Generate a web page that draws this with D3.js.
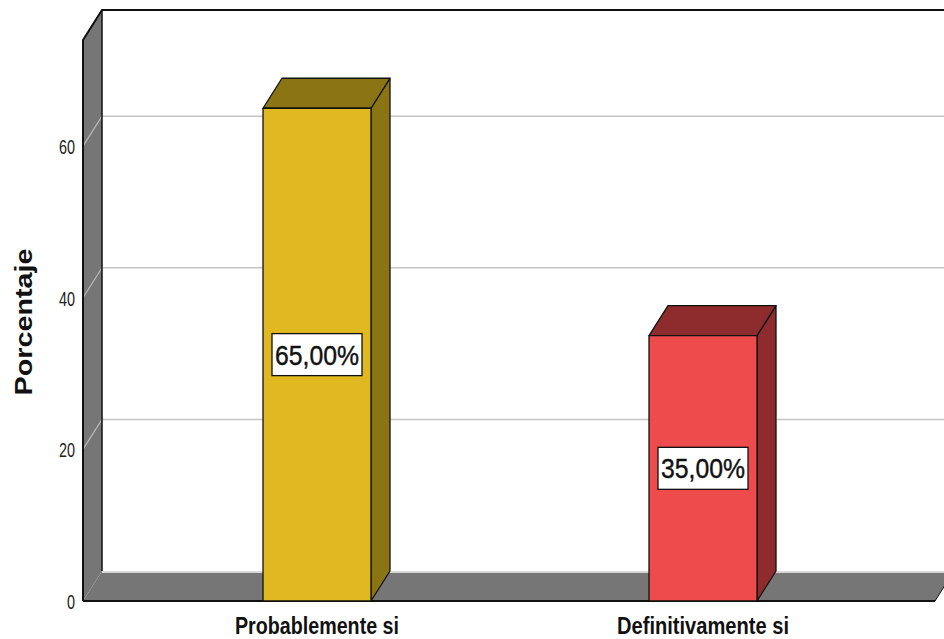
<!DOCTYPE html>
<html>
<head>
<meta charset="utf-8">
<script src="https://cdn.jsdelivr.net/npm/d3@7"></script>
<style>
  body { margin: 0; background: #fff; }
  svg { display: block; }
  .narrow { font-family: "Liberation Sans Narrow", "Liberation Sans", Arial, sans-serif; }
</style>
</head>
<body>
<div id="chart"></div>
<script>
const categories = ["Probablemente si", "Definitivamente si"];
const values = [65, 35];
const valueLabels = ["65,00%", "35,00%"];
const yTicks = [0, 20, 40, 60];
const yTitle = "Porcentaje";

const W = 944, H = 639;
// 3D depth offset of the back plane
const dx = 19, dy = -30;

const svg = d3.select("#chart")
  .append("svg")
  .attr("width", W)
  .attr("height", H);

// front-plane scales
const y = d3.scaleLinear().domain([0, 74]).range([601, 40]);
const x = d3.scaleBand().domain(categories).range([124, 896]);
const barW = 108;
const left = 83, right = 935;

const pts = a => a.map(p => p.join(",")).join(" ");

// back wall
svg.append("rect")
  .attr("x", left + dx).attr("y", y(74) + dy)
  .attr("width", W).attr("height", y(0) - y(74))
  .attr("fill", "#fff");

// gridlines on back wall
svg.selectAll(".grid")
  .data(yTicks.filter(d => d > 0))
  .enter()
  .append("line")
  .attr("x1", left + dx).attr("x2", W)
  .attr("y1", d => y(d) + dy).attr("y2", d => y(d) + dy)
  .attr("stroke", "#c4c4c4").attr("stroke-width", 1.5);

// left wall
svg.append("polygon")
  .attr("points", pts([[left, y(74)], [left + dx, y(74) + dy], [left + dx, y(0) + dy], [left, y(0)]]))
  .attr("fill", "#767676");

svg.selectAll(".wgrid")
  .data(yTicks.filter(d => d > 0))
  .enter()
  .append("line")
  .attr("x1", left).attr("x2", left + dx)
  .attr("y1", d => y(d)).attr("y2", d => y(d) + dy)
  .attr("stroke", "#b8b8b8").attr("stroke-width", 1.2);

// floor
svg.append("polygon")
  .attr("points", pts([[left, y(0)], [left + dx, y(0) + dy], [right + dx, y(0) + dy], [right, y(0)]]))
  .attr("fill", "#767676");
svg.append("line")
  .attr("x1", left + dx).attr("x2", W)
  .attr("y1", y(0) + dy + 1).attr("y2", y(0) + dy + 1)
  .attr("stroke", "#d8d8d8").attr("stroke-width", 2);

// frame lines
const frame = svg.append("g").attr("fill", "none").attr("stroke", "#111").attr("stroke-width", 2);
frame.append("polyline")
  .attr("points", pts([[left, y(0)], [left, y(74)], [left + dx, y(74) + dy], [W, y(74) + dy]]));
frame.append("line")
  .attr("x1", left + dx).attr("x2", left + dx)
  .attr("y1", y(74) + dy).attr("y2", y(0) + dy)
  .attr("stroke-width", 1.5);
frame.append("line")
  .attr("x1", left).attr("x2", right)
  .attr("y1", y(0)).attr("y2", y(0));
frame.append("line")
  .attr("x1", right).attr("x2", right + dx)
  .attr("y1", y(0)).attr("y2", y(0) + dy)
  .attr("stroke-width", 1);

// bars
const colors = [
  { front: "#e0b820", dark: "#8b7414" },
  { front: "#ee4b4c", dark: "#8e2b2d" }
];

const bars = svg.selectAll(".bar")
  .data(categories.map((c, i) => ({ c, v: values[i], label: valueLabels[i], col: colors[i] })))
  .enter()
  .append("g")
  .attr("class", "bar")
  .attr("stroke", "#111")
  .attr("stroke-width", 1.3)
  .attr("stroke-linejoin", "round");

const x0 = d => x(d.c) + x.bandwidth() / 2 - barW / 2;

bars.append("polygon")
  .attr("points", d => pts([[x0(d) + barW, y(d.v)], [x0(d) + barW + dx, y(d.v) + dy], [x0(d) + barW + dx, y(0) + dy], [x0(d) + barW, y(0)]]))
  .attr("fill", d => d.col.dark);
bars.append("polygon")
  .attr("points", d => pts([[x0(d), y(d.v)], [x0(d) + dx, y(d.v) + dy], [x0(d) + barW + dx, y(d.v) + dy], [x0(d) + barW, y(d.v)]]))
  .attr("fill", d => d.col.dark);
bars.append("rect")
  .attr("x", d => x0(d)).attr("y", d => y(d.v))
  .attr("width", barW).attr("height", d => y(0) - y(d.v))
  .attr("fill", d => d.col.front);

// value labels
const lab = svg.selectAll(".vlab")
  .data(categories.map((c, i) => ({ c, v: values[i], label: valueLabels[i] })))
  .enter()
  .append("g")
  .attr("transform", d => `translate(${x(d.c) + x.bandwidth() / 2},${y(d.v / 2)})`);
lab.append("rect")
  .attr("x", -45).attr("y", -21).attr("width", 90).attr("height", 42)
  .attr("fill", "#fff").attr("stroke", "#111").attr("stroke-width", 1.3);
lab.append("text")
  .attr("class", "narrow")
  .attr("text-anchor", "middle")
  .attr("y", 10)
  .attr("font-size", 27)
  .attr("textLength", 84)
  .attr("lengthAdjust", "spacingAndGlyphs")
  .attr("fill", "#111")
  .attr("stroke", "#111")
  .attr("stroke-width", 0.4)
  .text(d => d.label);

// y tick labels
svg.selectAll(".ytick")
  .data(yTicks)
  .enter()
  .append("text")
  .attr("class", "narrow")
  .attr("x", 75)
  .attr("y", d => y(d) + 8)
  .attr("text-anchor", "end")
  .attr("font-size", 20)
  .attr("textLength", d => String(d).length * 8)
  .attr("lengthAdjust", "spacingAndGlyphs")
  .attr("fill", "#222")
  .text(d => d);

// x category labels
svg.selectAll(".xlab")
  .data(categories)
  .enter()
  .append("text")
  .attr("class", "narrow")
  .attr("x", d => x(d) + x.bandwidth() / 2)
  .attr("y", 634)
  .attr("text-anchor", "middle")
  .attr("font-size", 24)
  .attr("font-weight", "bold")
  .attr("textLength", (d, i) => [164, 172][i])
  .attr("lengthAdjust", "spacingAndGlyphs")
  .attr("fill", "#111")
  .text(d => d);

// y axis title
svg.append("text")
  .attr("transform", "translate(32,322) rotate(-90)")
  .attr("text-anchor", "middle")
  .attr("font-family", "'Liberation Sans', Arial, sans-serif")
  .attr("font-size", 23)
  .attr("font-weight", "bold")
  .attr("textLength", 147)
  .attr("lengthAdjust", "spacingAndGlyphs")
  .attr("fill", "#111")
  .text(yTitle);
</script>
</body>
</html>
